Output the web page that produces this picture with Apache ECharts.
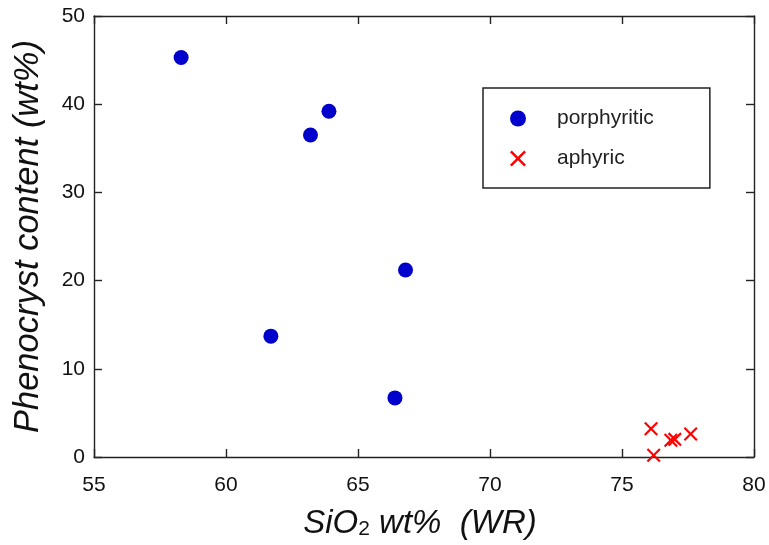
<!DOCTYPE html>
<html><head><meta charset="utf-8">
<script src="https://cdn.jsdelivr.net/npm/echarts@6/dist/echarts.min.js"></script>
<style>html,body{margin:0;padding:0;background:#fff}#c{width:769px;height:545px}</style>
</head><body><div id="c"></div>
<script>
// SiO2 wt% (WR) and phenocryst content (wt%)
const porphyriticSiO2 = [58.3, 63.9, 63.2, 66.8, 61.7, 66.4];
const porphyriticPheno = [45.3, 39.2, 36.5, 21.2, 13.7, 6.7];
const aphyricSiO2 = [76.1, 76.2, 76.85, 77.0, 77.6];
const aphyricPheno = [3.2, 0.2, 1.9, 2.0, 2.6];
const xTicks = [55, 60, 65, 70, 75, 80];
const yTicks = [0, 10, 20, 30, 40, 50];

const font = 'Liberation Sans, Arial, sans-serif';
const crossPath = 'path://M0,1.1L1.1,0L5,3.9L8.9,0L10,1.1L6.1,5L10,8.9L8.9,10L5,6.1L1.1,10L0,8.9L3.9,5Z';
function axisLine() { return {show: true, onZero: false, lineStyle: {color: '#222', width: 1.4}}; }
function tickIn() { return {show: true, inside: true, length: 8, lineStyle: {color: '#222', width: 1.4}}; }

const chart = echarts.init(document.getElementById('c'));
chart.setOption({
  animation: false,
  backgroundColor: '#fff',
  grid: {left: 94, top: 16, width: 660, height: 441},
  xAxis: [{
    type: 'value', position: 'bottom', min: xTicks[0], max: xTicks[xTicks.length - 1], interval: 5,
    axisLine: axisLine(), axisTick: tickIn(), splitLine: {show: false},
    axisLabel: {inside: false, color: '#111', fontSize: 21, fontFamily: font, margin: 18},
    name: '{a|SiO}{s|2}{a| wt%  (WR)}', nameLocation: 'middle', nameGap: 50,
    nameTextStyle: {padding: [0, 8, 0, 0], rich: {
      a: {fontSize: 33, fontStyle: 'italic', fontFamily: font, color: '#111'},
      s: {fontSize: 21, fontFamily: font, color: '#111', verticalAlign: 'bottom', padding: [12, 0, 0, 0]}
    }}
  }, {
    type: 'value', position: 'top', min: xTicks[0], max: xTicks[xTicks.length - 1], interval: 5,
    axisLine: axisLine(), axisTick: tickIn(), axisLabel: {show: false}, splitLine: {show: false}
  }],
  yAxis: [{
    type: 'value', position: 'left', min: yTicks[0], max: yTicks[yTicks.length - 1], interval: 10,
    axisLine: axisLine(), axisTick: tickIn(), splitLine: {show: false},
    axisLabel: {inside: false, color: '#111', fontSize: 21, fontFamily: font, margin: 9},
    name: 'Phenocryst content (wt%)', nameLocation: 'middle', nameGap: 48,
    nameTextStyle: {fontSize: 34.5, fontStyle: 'italic', fontFamily: font, color: '#111'}
  }, {
    type: 'value', position: 'right', min: yTicks[0], max: yTicks[yTicks.length - 1], interval: 10,
    axisLine: axisLine(), axisTick: tickIn(), axisLabel: {show: false}, splitLine: {show: false}
  }],
  legend: {
    orient: 'vertical', left: 483, top: 88,
    padding: [20, 56, 19, 27], itemGap: 19,
    backgroundColor: '#fff', borderColor: '#222', borderWidth: 1.5,
    itemWidth: 16, itemHeight: 16,
    textStyle: {fontSize: 21, fontFamily: font, color: '#222', lineHeight: 20, padding: [0, 0, 0, 26]},
    data: [
      {name: 'porphyritic', icon: 'circle'},
      {name: 'aphyric', icon: crossPath}
    ]
  },
  series: [{
    name: 'porphyritic', type: 'scatter', symbol: 'circle', symbolSize: 15,
    itemStyle: {color: '#0000cc', opacity: 1},
    data: porphyriticSiO2.map((x, i) => [x, porphyriticPheno[i]])
  }, {
    name: 'aphyric', type: 'scatter', symbol: crossPath, symbolSize: 14,
    itemStyle: {color: '#ff0000', opacity: 1},
    data: aphyricSiO2.map((x, i) => [x, aphyricPheno[i]])
  }]
});
</script></body></html>
